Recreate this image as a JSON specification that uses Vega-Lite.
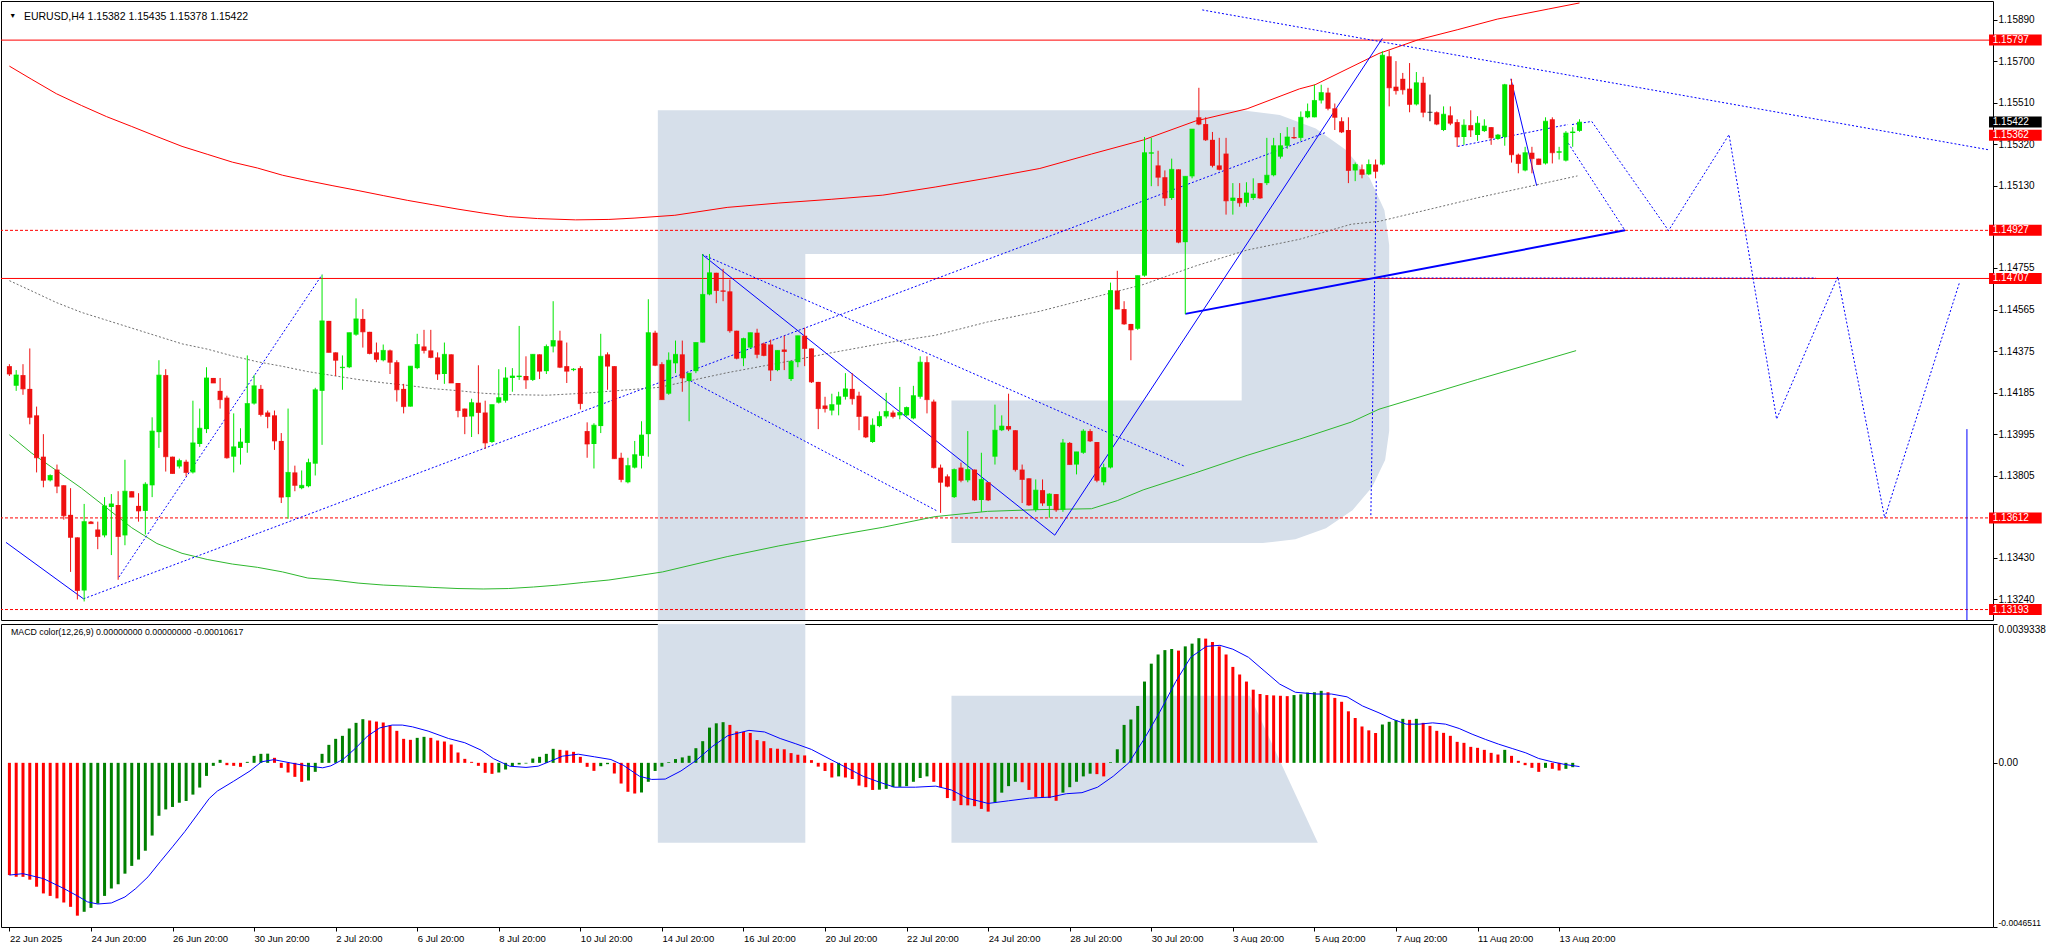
{
  "$schema": "https://vega.github.io/schema/vega-lite/v6.json",
  "description": "EURUSD H4 with MACD",
  "padding": 0,
  "background": "#ffffff",
  "spacing": 2,
  "resolve": {"scale": {"x": "independent", "y": "independent"}},
  "config": {
    "view": {"stroke": "#000000", "strokeWidth": 1},
    "axis": {"labelFont": "Liberation Sans", "labelColor": "#000000", "tickColor": "#000000", "domain": false, "grid": false, "labelFontSize": 10},
    "text": {"font": "Liberation Sans"}
  },
  "datasets": {
    "wmTop": [
      {"k":1,"i":95.4,"p":1.15476},{"k":2,"i":181.3,"p":1.15476},{"k":3,"i":186.9,"p":1.15455},{"k":4,"i":192.2,"p":1.15393},
      {"k":5,"i":196.6,"p":1.15296},{"k":6,"i":200.1,"p":1.15168},{"k":7,"i":202.3,"p":1.15019},{"k":8,"i":203.0,"p":1.1486},
      {"k":9,"i":203.0,"p":1.14009},{"k":10,"i":202.4,"p":1.13877},{"k":11,"i":200.5,"p":1.13753},{"k":12,"i":197.6,"p":1.13647},
      {"k":13,"i":193.7,"p":1.13565},{"k":14,"i":189.2,"p":1.13514},{"k":15,"i":184.4,"p":1.13497},{"k":16,"i":138.6,"p":1.13497},
      {"k":17,"i":138.6,"p":1.14149},{"k":18,"i":181.3,"p":1.14149},{"k":19,"i":181.3,"p":1.14819},{"k":20,"i":117.1,"p":1.14819},
      {"k":21,"i":117.1,"p":1.131},{"k":22,"i":95.4,"p":1.131}
    ],
    "wmMacd": [
      {"part":"stem","k":1,"i":95.4,"v":0.0045},{"part":"stem","k":2,"i":117.1,"v":0.0045},{"part":"stem","k":3,"i":117.1,"v":-0.002267},{"part":"stem","k":4,"i":95.4,"v":-0.002267},
      {"part":"leg","k":1,"i":138.6,"v":0.001898},{"part":"leg","k":2,"i":182.5,"v":0.001898},{"part":"leg","k":3,"i":192.5,"v":-0.002267},{"part":"leg","k":4,"i":138.6,"v":-0.002267}
    ],
    "levels": [
      {"p":1.15797,"kind":"main"},{"p":1.14707,"kind":"main"},
      {"p":1.14927,"kind":"aux"},{"p":1.13612,"kind":"aux"},{"p":1.13193,"kind":"aux"}
    ],
    "tags": [
      {"p":1.15797,"t":"1.15797","kind":"level"},{"p":1.15422,"t":"1.15422","kind":"bid"},{"p":1.15362,"t":"1.15362","kind":"level"},
      {"p":1.14927,"t":"1.14927","kind":"level"},{"p":1.14707,"t":"1.14707","kind":"level"},{"p":1.13612,"t":"1.13612","kind":"level"},
      {"p":1.13193,"t":"1.13193","kind":"level"}
    ],
    "curves": [
      {"c":"up","i":0,"p":1.15678},{"c":"up","i":3.2,"p":1.15619},{"c":"up","i":6.9,"p":1.15552},{"c":"up","i":10.6,"p":1.15498},{"c":"up","i":14.3,"p":1.15447},
      {"c":"up","i":18,"p":1.15402},{"c":"up","i":21.7,"p":1.15356},{"c":"up","i":25.4,"p":1.15311},{"c":"up","i":29.1,"p":1.15275},{"c":"up","i":32.8,"p":1.15239},
      {"c":"up","i":36.5,"p":1.15212},{"c":"up","i":40.2,"p":1.15179},{"c":"up","i":43.9,"p":1.15154},{"c":"up","i":47.6,"p":1.15131},{"c":"up","i":51.3,"p":1.15109},
      {"c":"up","i":55,"p":1.15086},{"c":"up","i":58.6,"p":1.15064},{"c":"up","i":62.3,"p":1.15044},{"c":"up","i":66,"p":1.15024},{"c":"up","i":69.7,"p":1.15006},
      {"c":"up","i":73.4,"p":1.1499},{"c":"up","i":77.7,"p":1.14981},{"c":"up","i":83.3,"p":1.14975},{"c":"up","i":88.2,"p":1.14977},{"c":"up","i":91.9,"p":1.14983},
      {"c":"up","i":97.9,"p":1.14996},{"c":"up","i":105.6,"p":1.15032},{"c":"up","i":113.2,"p":1.15052},{"c":"up","i":120.9,"p":1.15069},{"c":"up","i":128.5,"p":1.15088},
      {"c":"up","i":136.2,"p":1.15125},{"c":"up","i":143.9,"p":1.15166},{"c":"up","i":151.6,"p":1.1521},{"c":"up","i":159.2,"p":1.15276},{"c":"up","i":166.8,"p":1.1534},
      {"c":"up","i":174.5,"p":1.15427},{"c":"up","i":182.1,"p":1.15483},{"c":"up","i":189.8,"p":1.15574},{"c":"up","i":192.1,"p":1.15593},{"c":"up","i":201.5,"p":1.15736},
      {"c":"up","i":207.3,"p":1.15799},{"c":"up","i":213.1,"p":1.15845},{"c":"up","i":218.9,"p":1.15893},{"c":"up","i":226.4,"p":1.15939},{"c":"up","i":231,"p":1.15967},
      {"c":"lo","i":0,"p":1.13992},{"c":"lo","i":3.2,"p":1.1391},{"c":"lo","i":6.9,"p":1.13829},{"c":"lo","i":10.6,"p":1.13748},{"c":"lo","i":14.3,"p":1.13658},
      {"c":"lo","i":18,"p":1.13567},{"c":"lo","i":21.7,"p":1.13495},{"c":"lo","i":25.4,"p":1.1345},{"c":"lo","i":29.1,"p":1.13422},{"c":"lo","i":32.8,"p":1.13401},
      {"c":"lo","i":36.5,"p":1.13386},{"c":"lo","i":40.2,"p":1.13365},{"c":"lo","i":43.9,"p":1.13337},{"c":"lo","i":47.6,"p":1.13328},{"c":"lo","i":51.3,"p":1.13314},
      {"c":"lo","i":55,"p":1.13305},{"c":"lo","i":58.6,"p":1.133},{"c":"lo","i":62.3,"p":1.13294},{"c":"lo","i":66,"p":1.13289},{"c":"lo","i":69.7,"p":1.13287},
      {"c":"lo","i":73.4,"p":1.13289},{"c":"lo","i":77.1,"p":1.13296},{"c":"lo","i":80.8,"p":1.13305},{"c":"lo","i":84.5,"p":1.13317},{"c":"lo","i":88.2,"p":1.13328},
      {"c":"lo","i":91.9,"p":1.13345},{"c":"lo","i":96.1,"p":1.13365},{"c":"lo","i":105.6,"p":1.13435},{"c":"lo","i":113.2,"p":1.13484},{"c":"lo","i":120.9,"p":1.13528},
      {"c":"lo","i":128.5,"p":1.13569},{"c":"lo","i":136.2,"p":1.13618},{"c":"lo","i":143.9,"p":1.13642},{"c":"lo","i":151.6,"p":1.1365},{"c":"lo","i":159.2,"p":1.13654},
      {"c":"lo","i":163,"p":1.13691},{"c":"lo","i":166.8,"p":1.1374},{"c":"lo","i":174.5,"p":1.13818},{"c":"lo","i":182.1,"p":1.13898},{"c":"lo","i":189.8,"p":1.13972},
      {"c":"lo","i":197.4,"p":1.1405},{"c":"lo","i":201.5,"p":1.14109},{"c":"lo","i":216,"p":1.14245},{"c":"lo","i":230.5,"p":1.14377},
      {"c":"mid","i":0,"p":1.14697},{"c":"mid","i":3.2,"p":1.14651},{"c":"mid","i":6.9,"p":1.14597},{"c":"mid","i":10.6,"p":1.14552},{"c":"mid","i":14.3,"p":1.14516},
      {"c":"mid","i":18,"p":1.1448},{"c":"mid","i":21.7,"p":1.14444},{"c":"mid","i":25.4,"p":1.14408},{"c":"mid","i":29.1,"p":1.14384},{"c":"mid","i":32.8,"p":1.14353},
      {"c":"mid","i":36.5,"p":1.14326},{"c":"mid","i":40.2,"p":1.14305},{"c":"mid","i":43.9,"p":1.14281},{"c":"mid","i":47.6,"p":1.14263},{"c":"mid","i":51.3,"p":1.14245},
      {"c":"mid","i":55,"p":1.1423},{"c":"mid","i":58.6,"p":1.14218},{"c":"mid","i":62.3,"p":1.14203},{"c":"mid","i":66,"p":1.14194},{"c":"mid","i":69.7,"p":1.14182},
      {"c":"mid","i":73.4,"p":1.14176},{"c":"mid","i":79,"p":1.14173},{"c":"mid","i":84.5,"p":1.14182},{"c":"mid","i":88.2,"p":1.14191},{"c":"mid","i":91.9,"p":1.142},
      {"c":"mid","i":95.6,"p":1.14209},{"c":"mid","i":105.6,"p":1.14276},{"c":"mid","i":113.2,"p":1.1432},{"c":"mid","i":120.9,"p":1.14367},{"c":"mid","i":128.5,"p":1.1441},
      {"c":"mid","i":136.2,"p":1.14447},{"c":"mid","i":143.9,"p":1.14508},{"c":"mid","i":151.6,"p":1.14557},{"c":"mid","i":159.2,"p":1.14618},{"c":"mid","i":166.8,"p":1.14679},
      {"c":"mid","i":174.5,"p":1.14764},{"c":"mid","i":182.1,"p":1.14837},{"c":"mid","i":189.8,"p":1.14886},{"c":"mid","i":197.4,"p":1.14955},{"c":"mid","i":201.5,"p":1.14968},
      {"c":"mid","i":216,"p":1.15076},{"c":"mid","i":230.7,"p":1.15176}
    ],
    "drawings": [
      {"id":"b1","kind":"wave","k":0,"i":-0.5,"p":1.135},{"id":"b1","kind":"wave","k":1,"i":10.9,"p":1.13242},
      {"id":"b2","kind":"guide","k":0,"i":16.1,"p":1.13341},{"id":"b2","kind":"guide","k":1,"i":46,"p":1.14724},
      {"id":"b3","kind":"guide","k":0,"i":10.9,"p":1.13242},{"id":"b3","kind":"guide","k":1,"i":193.6,"p":1.15374},
      {"id":"b4","kind":"wave","k":0,"i":101.9,"p":1.14817},{"id":"b4","kind":"wave","k":1,"i":153.8,"p":1.13533},
      {"id":"b5","kind":"wave","k":0,"i":153.8,"p":1.13533},{"id":"b5","kind":"wave","k":1,"i":202,"p":1.15805},
      {"id":"b6","kind":"guide","k":0,"i":175.5,"p":1.15935},{"id":"b6","kind":"guide","k":1,"i":291.1,"p":1.15296},
      {"id":"b7","kind":"guide","k":0,"i":101.9,"p":1.14817},{"id":"b7","kind":"guide","k":1,"i":173,"p":1.13847},
      {"id":"b8","kind":"guide","k":0,"i":100.2,"p":1.14239},{"id":"b8","kind":"guide","k":1,"i":136.6,"p":1.13642},
      {"id":"b9","kind":"trend","k":0,"i":173,"p":1.14545},{"id":"b9","kind":"trend","k":1,"i":237.7,"p":1.14927},
      {"id":"b10","kind":"guide","k":0,"i":229.9,"p":1.15411},{"id":"b10","kind":"guide","k":1,"i":232.8,"p":1.15425},
      {"id":"b10","kind":"guide","k":2,"i":244.1,"p":1.14926},{"id":"b10","kind":"guide","k":3,"i":253,"p":1.15365},
      {"id":"b10","kind":"guide","k":4,"i":260,"p":1.14064},{"id":"b10","kind":"guide","k":5,"i":269,"p":1.14715},
      {"id":"b10","kind":"guide","k":6,"i":275.9,"p":1.13612},{"id":"b10","kind":"guide","k":7,"i":286.9,"p":1.14688},
      {"id":"b11","kind":"wave","k":0,"i":220.9,"p":1.1562},{"id":"b11","kind":"wave","k":1,"i":224.7,"p":1.15131},
      {"id":"b12","kind":"guide","k":0,"i":213.1,"p":1.15311},{"id":"b12","kind":"guide","k":1,"i":229.3,"p":1.15411},
      {"id":"b13","kind":"guide","k":0,"i":228.7,"p":1.15356},{"id":"b13","kind":"guide","k":1,"i":237.7,"p":1.14926},
      {"id":"b14","kind":"guide","k":0,"i":201.1,"p":1.15152},{"id":"b14","kind":"guide","k":1,"i":200.3,"p":1.13618},
      {"id":"b15","kind":"guide","k":0,"i":201,"p":1.14709},{"id":"b15","kind":"guide","k":1,"i":265.8,"p":1.14709},
      {"id":"b16","kind":"wave","k":0,"i":288,"p":1.14018},{"id":"b16","kind":"wave","k":1,"i":288,"p":1.131}
    ],
    "candles": [
      {"i":0,"o":1.14306,"h":1.14315,"l":1.14261,"c":1.1427},{"i":1,"o":1.14216,"h":1.14288,"l":1.14193,"c":1.14265},
      {"i":2,"o":1.14265,"h":1.14315,"l":1.14175,"c":1.14202},{"i":3,"o":1.14202,"h":1.14387,"l":1.1404,"c":1.14072},
      {"i":4,"o":1.14081,"h":1.14121,"l":1.1382,"c":1.13887},{"i":5,"o":1.13892,"h":1.13995,"l":1.13752,"c":1.13784},
      {"i":6,"o":1.13784,"h":1.13811,"l":1.13779,"c":1.13806},{"i":7,"o":1.13833,"h":1.13856,"l":1.13725,"c":1.13757},
      {"i":8,"o":1.13761,"h":1.13761,"l":1.13604,"c":1.13622},{"i":9,"o":1.13626,"h":1.13748,"l":1.13365,"c":1.13523},
      {"i":10,"o":1.13523,"h":1.13523,"l":1.13239,"c":1.1328},{"i":11,"o":1.1328,"h":1.13676,"l":1.1323,"c":1.13595},
      {"i":12,"o":1.13595,"h":1.13598,"l":1.13586,"c":1.13586},{"i":13,"o":1.13559,"h":1.13595,"l":1.13469,"c":1.13527},
      {"i":14,"o":1.13532,"h":1.13707,"l":1.13523,"c":1.13667},{"i":15,"o":1.13662,"h":1.13721,"l":1.13442,"c":1.13676},
      {"i":16,"o":1.13671,"h":1.13734,"l":1.13329,"c":1.13527},{"i":17,"o":1.13532,"h":1.13878,"l":1.13487,"c":1.13734},
      {"i":18,"o":1.13734,"h":1.13734,"l":1.13707,"c":1.13707},{"i":19,"o":1.13667,"h":1.13725,"l":1.13595,"c":1.13644},
      {"i":20,"o":1.13644,"h":1.13775,"l":1.13536,"c":1.13766},{"i":21,"o":1.13761,"h":1.14072,"l":1.13707,"c":1.14009},
      {"i":22,"o":1.14004,"h":1.14333,"l":1.13932,"c":1.14265},{"i":23,"o":1.14265,"h":1.14292,"l":1.13824,"c":1.13892},
      {"i":24,"o":1.13892,"h":1.13892,"l":1.13815,"c":1.13815},{"i":25,"o":1.13847,"h":1.13883,"l":1.13838,"c":1.13874},
      {"i":26,"o":1.13869,"h":1.13878,"l":1.13802,"c":1.1382},{"i":27,"o":1.1382,"h":1.14148,"l":1.13815,"c":1.13955},
      {"i":28,"o":1.1395,"h":1.14112,"l":1.13937,"c":1.14022},{"i":29,"o":1.14018,"h":1.14301,"l":1.14,"c":1.14252},
      {"i":30,"o":1.14252,"h":1.14252,"l":1.14229,"c":1.14229},{"i":31,"o":1.14193,"h":1.14252,"l":1.14112,"c":1.14153},
      {"i":32,"o":1.14162,"h":1.14171,"l":1.13883,"c":1.13887},{"i":33,"o":1.13892,"h":1.1409,"l":1.1382,"c":1.13937},
      {"i":34,"o":1.13932,"h":1.14022,"l":1.13856,"c":1.13959},{"i":35,"o":1.13955,"h":1.14355,"l":1.1391,"c":1.14135},
      {"i":36,"o":1.14135,"h":1.14265,"l":1.1413,"c":1.14216},{"i":37,"o":1.14202,"h":1.1422,"l":1.14076,"c":1.14085},
      {"i":38,"o":1.14094,"h":1.14103,"l":1.14022,"c":1.14076},{"i":39,"o":1.14081,"h":1.14103,"l":1.13923,"c":1.13964},
      {"i":40,"o":1.13964,"h":1.14,"l":1.1368,"c":1.13707},{"i":41,"o":1.13707,"h":1.14112,"l":1.13608,"c":1.1382},
      {"i":42,"o":1.1382,"h":1.13851,"l":1.13734,"c":1.13761},{"i":43,"o":1.13748,"h":1.13829,"l":1.13743,"c":1.13761},
      {"i":44,"o":1.13757,"h":1.13883,"l":1.13752,"c":1.13865},{"i":45,"o":1.1386,"h":1.14207,"l":1.13806,"c":1.14198},
      {"i":46,"o":1.14193,"h":1.14724,"l":1.13946,"c":1.14513},{"i":47,"o":1.14513,"h":1.14513,"l":1.14369,"c":1.14369},
      {"i":48,"o":1.14369,"h":1.14369,"l":1.14261,"c":1.14333},{"i":49,"o":1.14297,"h":1.14355,"l":1.14198,"c":1.14301},
      {"i":50,"o":1.14301,"h":1.14459,"l":1.14297,"c":1.14459},{"i":51,"o":1.1445,"h":1.14616,"l":1.14445,"c":1.14522},
      {"i":52,"o":1.14522,"h":1.14567,"l":1.14391,"c":1.14463},{"i":53,"o":1.14463,"h":1.14463,"l":1.1436,"c":1.14364},
      {"i":54,"o":1.14369,"h":1.14414,"l":1.14324,"c":1.14337},{"i":55,"o":1.14333,"h":1.14405,"l":1.14328,"c":1.14378},
      {"i":56,"o":1.14378,"h":1.14382,"l":1.1427,"c":1.14324},{"i":57,"o":1.14324,"h":1.14333,"l":1.14144,"c":1.14198},
      {"i":58,"o":1.14202,"h":1.14225,"l":1.1409,"c":1.14121},{"i":59,"o":1.14121,"h":1.14306,"l":1.14121,"c":1.14306},
      {"i":60,"o":1.14297,"h":1.14454,"l":1.14292,"c":1.14405},{"i":61,"o":1.14396,"h":1.14472,"l":1.14364,"c":1.14378},
      {"i":62,"o":1.14378,"h":1.14472,"l":1.14342,"c":1.14346},{"i":63,"o":1.14346,"h":1.14369,"l":1.14243,"c":1.1427},
      {"i":64,"o":1.1427,"h":1.14414,"l":1.14225,"c":1.1436},{"i":65,"o":1.1436,"h":1.1436,"l":1.14229,"c":1.14229},
      {"i":66,"o":1.14229,"h":1.14229,"l":1.14072,"c":1.14103},{"i":67,"o":1.14112,"h":1.14112,"l":1.13995,"c":1.14076},
      {"i":68,"o":1.14076,"h":1.14157,"l":1.13982,"c":1.14139},{"i":69,"o":1.14139,"h":1.1431,"l":1.13995,"c":1.14094},
      {"i":70,"o":1.14094,"h":1.14148,"l":1.13928,"c":1.13955},{"i":71,"o":1.13959,"h":1.1413,"l":1.13955,"c":1.1413},
      {"i":72,"o":1.14139,"h":1.14292,"l":1.14135,"c":1.14162},{"i":73,"o":1.14148,"h":1.14301,"l":1.14139,"c":1.14252},
      {"i":74,"o":1.14252,"h":1.14297,"l":1.14189,"c":1.14261},{"i":75,"o":1.14256,"h":1.1449,"l":1.14243,"c":1.14261},
      {"i":76,"o":1.14261,"h":1.14351,"l":1.14202,"c":1.14243},{"i":77,"o":1.14243,"h":1.1436,"l":1.14238,"c":1.1436},
      {"i":78,"o":1.1436,"h":1.1436,"l":1.14247,"c":1.14283},{"i":79,"o":1.14283,"h":1.14405,"l":1.1427,"c":1.14396},
      {"i":80,"o":1.14396,"h":1.14603,"l":1.14369,"c":1.14423},{"i":81,"o":1.14423,"h":1.14468,"l":1.14297,"c":1.14301},
      {"i":82,"o":1.14306,"h":1.14414,"l":1.14229,"c":1.14283},{"i":83,"o":1.14288,"h":1.14297,"l":1.14283,"c":1.14292},
      {"i":84,"o":1.14297,"h":1.14306,"l":1.14108,"c":1.14135},{"i":85,"o":1.14009,"h":1.14049,"l":1.13887,"c":1.1395},
      {"i":86,"o":1.1395,"h":1.14045,"l":1.13838,"c":1.14036},{"i":87,"o":1.14032,"h":1.14454,"l":1.14,"c":1.14351},
      {"i":88,"o":1.1436,"h":1.14369,"l":1.14198,"c":1.14306},{"i":89,"o":1.14306,"h":1.14306,"l":1.13883,"c":1.13883},
      {"i":90,"o":1.13887,"h":1.1391,"l":1.13775,"c":1.13788},{"i":91,"o":1.13775,"h":1.13887,"l":1.1377,"c":1.13851},
      {"i":92,"o":1.13842,"h":1.13964,"l":1.13838,"c":1.13901},{"i":93,"o":1.13896,"h":1.14054,"l":1.13838,"c":1.13991},
      {"i":94,"o":1.13995,"h":1.14612,"l":1.13892,"c":1.14459},{"i":95,"o":1.14459,"h":1.14468,"l":1.14306,"c":1.1431},
      {"i":96,"o":1.14315,"h":1.14324,"l":1.14153,"c":1.14153},{"i":97,"o":1.1418,"h":1.14369,"l":1.14175,"c":1.14333},
      {"i":98,"o":1.14319,"h":1.14423,"l":1.14274,"c":1.1436},{"i":99,"o":1.1436,"h":1.14423,"l":1.14189,"c":1.14252},
      {"i":100,"o":1.14238,"h":1.14274,"l":1.14054,"c":1.14274},{"i":101,"o":1.14283,"h":1.14414,"l":1.14274,"c":1.14414},
      {"i":102,"o":1.14414,"h":1.14819,"l":1.14414,"c":1.14634},{"i":103,"o":1.14634,"h":1.14819,"l":1.1463,"c":1.14733},
      {"i":104,"o":1.14733,"h":1.14733,"l":1.14594,"c":1.14652},{"i":105,"o":1.14652,"h":1.14751,"l":1.14603,"c":1.14648},
      {"i":106,"o":1.14648,"h":1.14702,"l":1.14459,"c":1.14468},{"i":107,"o":1.14468,"h":1.14468,"l":1.14337,"c":1.14342},
      {"i":108,"o":1.14342,"h":1.14436,"l":1.14306,"c":1.14432},{"i":109,"o":1.14391,"h":1.14459,"l":1.14387,"c":1.14459},
      {"i":110,"o":1.14459,"h":1.14477,"l":1.14342,"c":1.1436},{"i":111,"o":1.14409,"h":1.14414,"l":1.14351,"c":1.14355},
      {"i":112,"o":1.14405,"h":1.14427,"l":1.14238,"c":1.14288},{"i":113,"o":1.14288,"h":1.14378,"l":1.14283,"c":1.14378},
      {"i":114,"o":1.14382,"h":1.14445,"l":1.14288,"c":1.14373},{"i":115,"o":1.14247,"h":1.14328,"l":1.14238,"c":1.14328},
      {"i":116,"o":1.14324,"h":1.14445,"l":1.14301,"c":1.14445},{"i":117,"o":1.14445,"h":1.14481,"l":1.14306,"c":1.14387},
      {"i":118,"o":1.14387,"h":1.14387,"l":1.14229,"c":1.14234},{"i":119,"o":1.14234,"h":1.14234,"l":1.14018,"c":1.14112},
      {"i":120,"o":1.14126,"h":1.14166,"l":1.14094,"c":1.14112},{"i":121,"o":1.14103,"h":1.1418,"l":1.14081,"c":1.1413},
      {"i":122,"o":1.1413,"h":1.14189,"l":1.14081,"c":1.14166},{"i":123,"o":1.14166,"h":1.14274,"l":1.14153,"c":1.14202},
      {"i":124,"o":1.14202,"h":1.14274,"l":1.1413,"c":1.14157},{"i":125,"o":1.14171,"h":1.14189,"l":1.14013,"c":1.14076},
      {"i":126,"o":1.14076,"h":1.14076,"l":1.13977,"c":1.13982},{"i":127,"o":1.13959,"h":1.14067,"l":1.13955,"c":1.14036},
      {"i":128,"o":1.14032,"h":1.14099,"l":1.14027,"c":1.14076},{"i":129,"o":1.14076,"h":1.14184,"l":1.14067,"c":1.14099},
      {"i":130,"o":1.14094,"h":1.14103,"l":1.14067,"c":1.14076},{"i":131,"o":1.14081,"h":1.14211,"l":1.14063,"c":1.14094},
      {"i":132,"o":1.14081,"h":1.14121,"l":1.14076,"c":1.14117},{"i":133,"o":1.14067,"h":1.14216,"l":1.14063,"c":1.14171},
      {"i":134,"o":1.14166,"h":1.14351,"l":1.14157,"c":1.14324},{"i":135,"o":1.14324,"h":1.14351,"l":1.1409,"c":1.14153},
      {"i":136,"o":1.14144,"h":1.14153,"l":1.13838,"c":1.13842},{"i":137,"o":1.13842,"h":1.13856,"l":1.13635,"c":1.13775},
      {"i":138,"o":1.13802,"h":1.13811,"l":1.13752,"c":1.13757},{"i":139,"o":1.13707,"h":1.13838,"l":1.13703,"c":1.13833},
      {"i":140,"o":1.13842,"h":1.13865,"l":1.13775,"c":1.13784},{"i":141,"o":1.13784,"h":1.14009,"l":1.13775,"c":1.13833},
      {"i":142,"o":1.13833,"h":1.13833,"l":1.13689,"c":1.13694},{"i":143,"o":1.13694,"h":1.1391,"l":1.1364,"c":1.13788},
      {"i":144,"o":1.13775,"h":1.13775,"l":1.13689,"c":1.13694},{"i":145,"o":1.13892,"h":1.1413,"l":1.13856,"c":1.14013},
      {"i":146,"o":1.14013,"h":1.14081,"l":1.14009,"c":1.14032},{"i":147,"o":1.14032,"h":1.1418,"l":1.14009,"c":1.14018},
      {"i":148,"o":1.14013,"h":1.14013,"l":1.13824,"c":1.13833},{"i":149,"o":1.13833,"h":1.13856,"l":1.1368,"c":1.13788},
      {"i":150,"o":1.13793,"h":1.13793,"l":1.13667,"c":1.13671},{"i":151,"o":1.13649,"h":1.13788,"l":1.1364,"c":1.13739},
      {"i":152,"o":1.13739,"h":1.13788,"l":1.13667,"c":1.1368},{"i":153,"o":1.13667,"h":1.13725,"l":1.13613,"c":1.13721},
      {"i":154,"o":1.13721,"h":1.13721,"l":1.1364,"c":1.13649},{"i":155,"o":1.13649,"h":1.13973,"l":1.1364,"c":1.13955},
      {"i":156,"o":1.13955,"h":1.13959,"l":1.13856,"c":1.13856},{"i":157,"o":1.13856,"h":1.13914,"l":1.13811,"c":1.13914},
      {"i":158,"o":1.1391,"h":1.14018,"l":1.13905,"c":1.14009},{"i":159,"o":1.14009,"h":1.14018,"l":1.13959,"c":1.13964},
      {"i":160,"o":1.13959,"h":1.13959,"l":1.13775,"c":1.13784},{"i":161,"o":1.13775,"h":1.1386,"l":1.13761,"c":1.13842},
      {"i":162,"o":1.13842,"h":1.14688,"l":1.13838,"c":1.14652},{"i":163,"o":1.14652,"h":1.14742,"l":1.14567,"c":1.14567},
      {"i":164,"o":1.14567,"h":1.14603,"l":1.14495,"c":1.14499},{"i":165,"o":1.14499,"h":1.14499,"l":1.14333,"c":1.14472},
      {"i":166,"o":1.14477,"h":1.1472,"l":1.14472,"c":1.1472},{"i":167,"o":1.1472,"h":1.15354,"l":1.14715,"c":1.15282},
      {"i":168,"o":1.15278,"h":1.1535,"l":1.15129,"c":1.15282},{"i":169,"o":1.15224,"h":1.15291,"l":1.15129,"c":1.1517},
      {"i":170,"o":1.1517,"h":1.15201,"l":1.15039,"c":1.15075},{"i":171,"o":1.15075,"h":1.15255,"l":1.15066,"c":1.15206},
      {"i":172,"o":1.15206,"h":1.15206,"l":1.14868,"c":1.14873},{"i":173,"o":1.14873,"h":1.15174,"l":1.14544,"c":1.15174},
      {"i":174,"o":1.15174,"h":1.1539,"l":1.15165,"c":1.1539},{"i":175,"o":1.15444,"h":1.15579,"l":1.15408,"c":1.15413},
      {"i":176,"o":1.15413,"h":1.15444,"l":1.15336,"c":1.15341},{"i":177,"o":1.15341,"h":1.15377,"l":1.15215,"c":1.15224},
      {"i":178,"o":1.15224,"h":1.1535,"l":1.15201,"c":1.15206},{"i":179,"o":1.15278,"h":1.1535,"l":1.14999,"c":1.15062},
      {"i":180,"o":1.15062,"h":1.15143,"l":1.14999,"c":1.15075},{"i":181,"o":1.15075,"h":1.15143,"l":1.15035,"c":1.15053},
      {"i":182,"o":1.15053,"h":1.15147,"l":1.15035,"c":1.15098},{"i":183,"o":1.15075,"h":1.15165,"l":1.15066,"c":1.15093},
      {"i":184,"o":1.15143,"h":1.15143,"l":1.15071,"c":1.15075},{"i":185,"o":1.15143,"h":1.1535,"l":1.15134,"c":1.15179},
      {"i":186,"o":1.15179,"h":1.1535,"l":1.15174,"c":1.15314},{"i":187,"o":1.15264,"h":1.15372,"l":1.15255,"c":1.15314},
      {"i":188,"o":1.15314,"h":1.15399,"l":1.153,"c":1.15354},{"i":189,"o":1.15354,"h":1.15399,"l":1.15345,"c":1.1535},
      {"i":190,"o":1.1535,"h":1.15471,"l":1.15336,"c":1.15444},{"i":191,"o":1.15444,"h":1.15507,"l":1.1544,"c":1.15471},
      {"i":192,"o":1.15444,"h":1.15593,"l":1.15444,"c":1.15521},{"i":193,"o":1.15521,"h":1.15593,"l":1.15507,"c":1.15557},
      {"i":194,"o":1.15557,"h":1.15579,"l":1.15476,"c":1.15485},{"i":195,"o":1.15485,"h":1.15507,"l":1.15386,"c":1.15444},
      {"i":196,"o":1.15426,"h":1.15444,"l":1.15372,"c":1.15377},{"i":197,"o":1.15386,"h":1.15444,"l":1.15143,"c":1.15201},
      {"i":198,"o":1.15201,"h":1.15237,"l":1.15152,"c":1.15228},{"i":199,"o":1.15206,"h":1.15228,"l":1.15165,"c":1.15183},
      {"i":200,"o":1.15183,"h":1.15251,"l":1.15179,"c":1.15228},{"i":201,"o":1.15228,"h":1.15251,"l":1.15165,"c":1.15197},
      {"i":202,"o":1.15228,"h":1.15746,"l":1.15224,"c":1.15728},{"i":203,"o":1.15723,"h":1.1575,"l":1.15494,"c":1.15579},
      {"i":204,"o":1.15584,"h":1.15701,"l":1.15548,"c":1.15566},{"i":205,"o":1.1562,"h":1.15647,"l":1.15548,"c":1.1557},
      {"i":206,"o":1.15575,"h":1.15692,"l":1.15467,"c":1.15503},{"i":207,"o":1.15503,"h":1.15651,"l":1.15498,"c":1.15602},
      {"i":208,"o":1.15602,"h":1.15629,"l":1.15444,"c":1.15467},{"i":209,"o":1.15467,"h":1.15548,"l":1.15426,"c":1.15467},
      {"i":210,"o":1.15467,"h":1.15471,"l":1.15408,"c":1.15413},{"i":211,"o":1.15386,"h":1.15494,"l":1.15381,"c":1.15458},
      {"i":212,"o":1.15453,"h":1.15494,"l":1.15408,"c":1.15417},{"i":213,"o":1.15422,"h":1.15435,"l":1.15309,"c":1.15354},
      {"i":214,"o":1.15354,"h":1.15435,"l":1.15318,"c":1.15408},{"i":215,"o":1.15408,"h":1.15476,"l":1.15354,"c":1.15386},
      {"i":216,"o":1.15363,"h":1.15449,"l":1.15336,"c":1.15417},{"i":217,"o":1.15381,"h":1.15435,"l":1.15377,"c":1.15404},
      {"i":218,"o":1.15399,"h":1.15399,"l":1.15318,"c":1.1535},{"i":219,"o":1.15345,"h":1.15368,"l":1.15341,"c":1.15363},
      {"i":220,"o":1.15354,"h":1.15597,"l":1.15314,"c":1.15593},{"i":221,"o":1.15593,"h":1.1562,"l":1.15237,"c":1.15273},
      {"i":222,"o":1.15273,"h":1.15278,"l":1.15188,"c":1.15233},{"i":223,"o":1.15201,"h":1.15309,"l":1.15197,"c":1.15282},
      {"i":224,"o":1.15282,"h":1.15309,"l":1.15188,"c":1.15255},{"i":225,"o":1.15255,"h":1.15255,"l":1.15228,"c":1.15228},
      {"i":226,"o":1.15233,"h":1.15444,"l":1.15228,"c":1.15426},{"i":227,"o":1.15435,"h":1.15444,"l":1.15233,"c":1.15282},
      {"i":228,"o":1.15282,"h":1.15309,"l":1.15251,"c":1.15287},{"i":229,"o":1.15246,"h":1.15381,"l":1.15242,"c":1.15372},
      {"i":230,"o":1.15372,"h":1.15399,"l":1.15309,"c":1.15377},{"i":231,"o":1.15382,"h":1.15435,"l":1.15378,"c":1.15422}
    ],
    "hist": [
      {"i":0,"h":-0.00318,"g":0},{"i":1,"h":-0.00323,"g":0},{"i":2,"h":-0.00323,"g":0},{"i":3,"h":-0.00331,"g":0},{"i":4,"h":-0.00351,"g":0},
      {"i":5,"h":-0.0037,"g":0},{"i":6,"h":-0.00377,"g":0},{"i":7,"h":-0.00384,"g":0},{"i":8,"h":-0.00396,"g":0},{"i":9,"h":-0.00408,"g":0},
      {"i":10,"h":-0.00433,"g":0},{"i":11,"h":-0.00422,"g":1},{"i":12,"h":-0.00411,"g":1},{"i":13,"h":-0.00399,"g":1},{"i":14,"h":-0.00377,"g":1},
      {"i":15,"h":-0.00356,"g":1},{"i":16,"h":-0.00344,"g":1},{"i":17,"h":-0.00314,"g":1},{"i":18,"h":-0.00292,"g":1},{"i":19,"h":-0.00274,"g":1},
      {"i":20,"h":-0.00249,"g":1},{"i":21,"h":-0.00206,"g":1},{"i":22,"h":-0.0015,"g":1},{"i":23,"h":-0.00132,"g":1},{"i":24,"h":-0.00125,"g":1},
      {"i":25,"h":-0.00113,"g":1},{"i":26,"h":-0.00108,"g":1},{"i":27,"h":-0.0009,"g":1},{"i":28,"h":-0.0007,"g":1},{"i":29,"h":-0.00037,"g":1},
      {"i":30,"h":-0.000085,"g":1},{"i":31,"h":0.000085,"g":1},{"i":32,"h":-0.000066,"g":0},{"i":33,"h":-0.000085,"g":0},{"i":34,"h":-0.000113,"g":0},
      {"i":35,"h":0.000028,"g":1},{"i":36,"h":0.000198,"g":1},{"i":37,"h":0.000255,"g":1},{"i":38,"h":0.00026,"g":1},{"i":39,"h":0.000142,"g":0},
      {"i":40,"h":-0.000142,"g":0},{"i":41,"h":-0.000274,"g":0},{"i":42,"h":-0.000397,"g":0},{"i":43,"h":-0.000538,"g":0},{"i":44,"h":-0.0005,"g":1},
      {"i":45,"h":-0.000255,"g":1},{"i":46,"h":0.000255,"g":1},{"i":47,"h":0.00051,"g":1},{"i":48,"h":0.00068,"g":1},{"i":49,"h":0.000765,"g":1},
      {"i":50,"h":0.000973,"g":1},{"i":51,"h":0.001133,"g":1},{"i":52,"h":0.001237,"g":1},{"i":53,"h":0.0012,"g":0},{"i":54,"h":0.00117,"g":0},
      {"i":55,"h":0.001143,"g":0},{"i":56,"h":0.001058,"g":0},{"i":57,"h":0.000907,"g":0},{"i":58,"h":0.00068,"g":0},{"i":59,"h":0.000652,"g":0},
      {"i":60,"h":0.000708,"g":1},{"i":61,"h":0.000737,"g":1},{"i":62,"h":0.000708,"g":0},{"i":63,"h":0.000633,"g":0},{"i":64,"h":0.000604,"g":0},
      {"i":65,"h":0.000519,"g":0},{"i":66,"h":0.000293,"g":0},{"i":67,"h":0.000113,"g":0},{"i":68,"h":0.000028,"g":0},{"i":69,"h":-0.000085,"g":0},
      {"i":70,"h":-0.000283,"g":0},{"i":71,"h":-0.000312,"g":0},{"i":72,"h":-0.000274,"g":1},{"i":73,"h":-0.000189,"g":1},{"i":74,"h":-0.000094,"g":1},
      {"i":75,"h":-0.000047,"g":1},{"i":76,"h":-0.000019,"g":1},{"i":77,"h":0.000123,"g":1},{"i":78,"h":0.00017,"g":1},{"i":79,"h":0.000255,"g":1},
      {"i":80,"h":0.000397,"g":1},{"i":81,"h":0.000368,"g":0},{"i":82,"h":0.000349,"g":0},{"i":83,"h":0.000312,"g":0},{"i":84,"h":0.00017,"g":0},
      {"i":85,"h":-0.000113,"g":0},{"i":86,"h":-0.000227,"g":0},{"i":87,"h":-0.000094,"g":1},{"i":88,"h":-0.000038,"g":1},{"i":89,"h":-0.000302,"g":0},
      {"i":90,"h":-0.000586,"g":0},{"i":91,"h":-0.00082,"g":0},{"i":92,"h":-0.000869,"g":0},{"i":93,"h":-0.00084,"g":1},{"i":94,"h":-0.000537,"g":1},
      {"i":95,"h":-0.00023,"g":1},{"i":96,"h":-0.000107,"g":1},{"i":97,"h":0.00002,"g":1},{"i":98,"h":0.000107,"g":1},{"i":99,"h":0.000154,"g":1},
      {"i":100,"h":0.0002,"g":1},{"i":101,"h":0.000415,"g":1},{"i":102,"h":0.000614,"g":1},{"i":103,"h":0.000998,"g":1},{"i":104,"h":0.00112,"g":1},
      {"i":105,"h":0.001152,"g":1},{"i":106,"h":0.001075,"g":0},{"i":107,"h":0.00089,"g":0},{"i":108,"h":0.000875,"g":0},{"i":109,"h":0.000845,"g":0},
      {"i":110,"h":0.000645,"g":0},{"i":111,"h":0.000614,"g":0},{"i":112,"h":0.000415,"g":0},{"i":113,"h":0.0004,"g":0},{"i":114,"h":0.000384,"g":0},
      {"i":115,"h":0.000276,"g":0},{"i":116,"h":0.00023,"g":0},{"i":117,"h":0.00021,"g":0},{"i":118,"h":0.000077,"g":0},{"i":119,"h":-0.000107,"g":0},
      {"i":120,"h":-0.00023,"g":0},{"i":121,"h":-0.000415,"g":0},{"i":122,"h":-0.000384,"g":1},{"i":123,"h":-0.000415,"g":0},{"i":124,"h":-0.00046,"g":0},
      {"i":125,"h":-0.000645,"g":0},{"i":126,"h":-0.00069,"g":0},{"i":127,"h":-0.000768,"g":0},{"i":128,"h":-0.00076,"g":1},{"i":129,"h":-0.000737,"g":1},
      {"i":130,"h":-0.00069,"g":1},{"i":131,"h":-0.00068,"g":1},{"i":132,"h":-0.00066,"g":1},{"i":133,"h":-0.000537,"g":1},{"i":134,"h":-0.00043,"g":1},
      {"i":135,"h":-0.000384,"g":1},{"i":136,"h":-0.000537,"g":0},{"i":137,"h":-0.00069,"g":0},{"i":138,"h":-0.000998,"g":0},{"i":139,"h":-0.001075,"g":0},
      {"i":140,"h":-0.001198,"g":0},{"i":141,"h":-0.001205,"g":0},{"i":142,"h":-0.001228,"g":0},{"i":143,"h":-0.001305,"g":0},{"i":144,"h":-0.001382,"g":0},
      {"i":145,"h":-0.00112,"g":1},{"i":146,"h":-0.000845,"g":1},{"i":147,"h":-0.00066,"g":1},{"i":148,"h":-0.000537,"g":1},{"i":149,"h":-0.00055,"g":0},
      {"i":150,"h":-0.000768,"g":0},{"i":151,"h":-0.000967,"g":0},{"i":152,"h":-0.00097,"g":0},{"i":153,"h":-0.000998,"g":0},{"i":154,"h":-0.001075,"g":0},
      {"i":155,"h":-0.000845,"g":1},{"i":156,"h":-0.00069,"g":1},{"i":157,"h":-0.000537,"g":1},{"i":158,"h":-0.000384,"g":1},{"i":159,"h":-0.000307,"g":1},
      {"i":160,"h":-0.00032,"g":0},{"i":161,"h":-0.000384,"g":0},{"i":162,"h":0.00002,"g":1},{"i":163,"h":0.000384,"g":1},{"i":164,"h":0.001075,"g":1},
      {"i":165,"h":0.001228,"g":1},{"i":166,"h":0.001612,"g":1},{"i":167,"h":0.002303,"g":1},{"i":168,"h":0.00281,"g":1},{"i":169,"h":0.00307,"g":1},
      {"i":170,"h":0.003194,"g":1},{"i":171,"h":0.003225,"g":1},{"i":172,"h":0.00318,"g":0},{"i":173,"h":0.0033,"g":1},{"i":174,"h":0.003378,"g":1},
      {"i":175,"h":0.003532,"g":1},{"i":176,"h":0.00352,"g":0},{"i":177,"h":0.003424,"g":0},{"i":178,"h":0.0033,"g":0},{"i":179,"h":0.00307,"g":0},
      {"i":180,"h":0.002718,"g":0},{"i":181,"h":0.002503,"g":0},{"i":182,"h":0.002303,"g":0},{"i":183,"h":0.002073,"g":0},{"i":184,"h":0.00195,"g":0},
      {"i":185,"h":0.00192,"g":0},{"i":186,"h":0.00191,"g":0},{"i":187,"h":0.0019,"g":0},{"i":188,"h":0.00189,"g":0},{"i":189,"h":0.00192,"g":1},
      {"i":190,"h":0.00194,"g":1},{"i":191,"h":0.00199,"g":1},{"i":192,"h":0.002,"g":1},{"i":193,"h":0.00204,"g":1},{"i":194,"h":0.002,"g":0},
      {"i":195,"h":0.00184,"g":0},{"i":196,"h":0.00173,"g":0},{"i":197,"h":0.00146,"g":0},{"i":198,"h":0.00127,"g":0},{"i":199,"h":0.00103,"g":0},
      {"i":200,"h":0.00092,"g":0},{"i":201,"h":0.000845,"g":0},{"i":202,"h":0.001086,"g":1},{"i":203,"h":0.001162,"g":1},{"i":204,"h":0.001209,"g":1},
      {"i":205,"h":0.001247,"g":1},{"i":206,"h":0.001218,"g":0},{"i":207,"h":0.001247,"g":1},{"i":208,"h":0.001133,"g":0},{"i":209,"h":0.001048,"g":0},
      {"i":210,"h":0.000907,"g":0},{"i":211,"h":0.00085,"g":0},{"i":212,"h":0.000765,"g":0},{"i":213,"h":0.000595,"g":0},{"i":214,"h":0.000567,"g":0},
      {"i":215,"h":0.000453,"g":0},{"i":216,"h":0.000425,"g":0},{"i":217,"h":0.000368,"g":0},{"i":218,"h":0.000283,"g":0},{"i":219,"h":0.000236,"g":0},
      {"i":220,"h":0.000368,"g":1},{"i":221,"h":0.000198,"g":0},{"i":222,"h":0.000057,"g":0},{"i":223,"h":-0.000066,"g":0},{"i":224,"h":-0.000142,"g":0},
      {"i":225,"h":-0.000255,"g":0},{"i":226,"h":-0.000142,"g":1},{"i":227,"h":-0.00017,"g":0},{"i":228,"h":-0.000217,"g":0},{"i":229,"h":-0.00017,"g":1},
      {"i":230,"h":-0.000123,"g":1},{"i":231,"h":0,"g":1}
    ],
    "signal": [
      {"i":0,"s":-0.00318},{"i":2,"s":-0.00314},{"i":5,"s":-0.00328},{"i":8,"s":-0.00356},{"i":10,"s":-0.00377},{"i":11.5,"s":-0.00394},
      {"i":13,"s":-0.004},{"i":15,"s":-0.00397},{"i":17,"s":-0.0038},{"i":18.6,"s":-0.00356},{"i":20.4,"s":-0.00323},{"i":22.2,"s":-0.0028},
      {"i":24,"s":-0.00238},{"i":25.8,"s":-0.00195},{"i":27.6,"s":-0.00148},{"i":29.4,"s":-0.00101},{"i":30.6,"s":-0.0008},{"i":33,"s":-0.00052},
      {"i":35.4,"s":-0.00023},{"i":37.1,"s":0.00003},{"i":38.9,"s":0.00009},{"i":41.3,"s":0},{"i":43.7,"s":-0.000085},{"i":46.1,"s":-0.00014},
      {"i":47.3,"s":-0.000085},{"i":49.1,"s":0.0001},{"i":50.9,"s":0.00041},{"i":52.7,"s":0.00076},{"i":54.5,"s":0.00099},{"i":56.3,"s":0.00107},
      {"i":57.8,"s":0.00107},{"i":59.3,"s":0.00102},{"i":61.6,"s":0.0009},{"i":64.6,"s":0.00069},{"i":67,"s":0.00057},{"i":69.4,"s":0.00036},
      {"i":71.2,"s":0.00012},{"i":73.6,"s":-0.000094},{"i":76,"s":-0.00013},{"i":77.8,"s":-0.000094},{"i":79.6,"s":0.000047},{"i":81.4,"s":0.00019},
      {"i":83.7,"s":0.000245},{"i":86.1,"s":0.00017},{"i":88.5,"s":0.000094},{"i":90.3,"s":-0.000066},{"i":92.7,"s":-0.00038},{"i":94.5,"s":-0.00047},
      {"i":96.5,"s":-0.00046},{"i":98.8,"s":-0.00023},{"i":101.1,"s":0.000077},{"i":103.4,"s":0.00046},{"i":105.7,"s":0.00077},{"i":108.8,"s":0.00092},
      {"i":111.1,"s":0.000875},{"i":113.4,"s":0.00069},{"i":115.7,"s":0.00054},{"i":118,"s":0.00038},{"i":121,"s":0.000077},{"i":123.3,"s":-0.00015},
      {"i":125.6,"s":-0.00038},{"i":127.9,"s":-0.00054},{"i":130.2,"s":-0.00069},{"i":133.3,"s":-0.00069},{"i":136.3,"s":-0.00066},{"i":138.6,"s":-0.00077},
      {"i":140.9,"s":-0.001},{"i":144,"s":-0.00115},{"i":147,"s":-0.001075},{"i":150.1,"s":-0.001},{"i":153.2,"s":-0.00097},{"i":155.5,"s":-0.000875},
      {"i":157.8,"s":-0.000845},{"i":160.1,"s":-0.00069},{"i":162.4,"s":-0.00038},{"i":164.7,"s":0},{"i":167,"s":0.00069},{"i":169.3,"s":0.00146},
      {"i":171.6,"s":0.0023},{"i":173.8,"s":0.00299},{"i":176.1,"s":0.0033},{"i":178.1,"s":0.00333},{"i":180,"s":0.00322},{"i":182.3,"s":0.00299},
      {"i":184.6,"s":0.00261},{"i":186.9,"s":0.00223},{"i":189.2,"s":0.002},{"i":192.2,"s":0.00195},{"i":194.5,"s":0.00195},{"i":196.8,"s":0.00187},
      {"i":199.1,"s":0.00161},{"i":201.5,"s":0.001417},{"i":203.5,"s":0.001237},{"i":205.5,"s":0.001096},{"i":207.4,"s":0.001096},{"i":209.4,"s":0.001133},
      {"i":211.3,"s":0.001096},{"i":213.3,"s":0.000973},{"i":215.2,"s":0.000812},{"i":217.2,"s":0.000661},{"i":219.1,"s":0.000529},{"i":221.1,"s":0.000406},
      {"i":223.1,"s":0.000283},{"i":225,"s":0.000123},{"i":227,"s":0.000028},{"i":228.9,"s":-0.000047},{"i":231,"s":-0.000106}
    ]
  },
  "vconcat": [
    {
      "width": 1992,
      "height": 619,
      "layer": [
        {
          "data": {"name": "wmTop"},
          "mark": {"type": "line", "fill": "#d6dfea", "strokeWidth": 0, "strokeOpacity": 0, "clip": true},
          "encoding": {
            "x": {"field": "i", "type": "quantitative", "scale": {"domain": [-0.5, 291.1], "nice": false, "zero": false}, "axis": null},
            "y": {"field": "p", "type": "quantitative", "scale": {"domain": [1.13168, 1.15953], "nice": false, "zero": false}, "title": null,
              "axis": {"orient": "right", "title": null, "values": [1.1324, 1.1343, 1.13805, 1.13995, 1.14185, 1.14375, 1.14565, 1.14755, 1.1513, 1.1532, 1.1551, 1.157, 1.1589],
                "format": ".5f", "tickSize": 4, "labelPadding": 1, "labelFontSize": 10, "labelOverlap": false, "labelBound": false, "labelFlush": false}},
            "order": {"field": "k", "type": "quantitative"}
          }
        },
        {
          "data": {"name": "levels"},
          "transform": [{"filter": "datum.kind == 'main'"}],
          "mark": {"type": "rule", "color": "#ff0000", "strokeWidth": 1},
          "encoding": {"y": {"field": "p", "type": "quantitative", "scale": {"domain": [1.13168, 1.15953], "nice": false, "zero": false}, "title": null}}
        },
        {
          "data": {"name": "levels"},
          "transform": [{"filter": "datum.kind == 'aux'"}],
          "mark": {"type": "rule", "color": "#ff0000", "strokeWidth": 1, "strokeDash": [3, 2]},
          "encoding": {"y": {"field": "p", "type": "quantitative", "title": null}}
        },
        {
          "data": {"name": "curves"},
          "transform": [{"filter": "datum.c == 'up'"}],
          "mark": {"type": "line", "color": "#ff0000", "strokeWidth": 1, "clip": true},
          "encoding": {
            "x": {"field": "i", "type": "quantitative", "axis": null},
            "y": {"field": "p", "type": "quantitative", "title": null}
          }
        },
        {
          "data": {"name": "curves"},
          "transform": [{"filter": "datum.c == 'lo'"}],
          "mark": {"type": "line", "color": "#2eb82e", "strokeWidth": 1, "clip": true},
          "encoding": {
            "x": {"field": "i", "type": "quantitative", "axis": null},
            "y": {"field": "p", "type": "quantitative", "title": null}
          }
        },
        {
          "data": {"name": "curves"},
          "transform": [{"filter": "datum.c == 'mid'"}],
          "mark": {"type": "line", "color": "#707070", "strokeWidth": 1, "strokeDash": [2, 2], "clip": true},
          "encoding": {
            "x": {"field": "i", "type": "quantitative", "axis": null},
            "y": {"field": "p", "type": "quantitative", "title": null}
          }
        },
        {
          "data": {"name": "drawings"},
          "transform": [{"filter": "datum.kind == 'wave'"}],
          "mark": {"type": "line", "color": "#0000ff", "strokeWidth": 1, "clip": true},
          "encoding": {
            "x": {"field": "i", "type": "quantitative", "axis": null},
            "y": {"field": "p", "type": "quantitative", "title": null},
            "detail": {"field": "id"},
            "order": {"field": "k", "type": "quantitative"}
          }
        },
        {
          "data": {"name": "drawings"},
          "transform": [{"filter": "datum.kind == 'guide'"}],
          "mark": {"type": "line", "color": "#0000ff", "strokeWidth": 1, "strokeDash": [2, 2], "clip": true},
          "encoding": {
            "x": {"field": "i", "type": "quantitative", "axis": null},
            "y": {"field": "p", "type": "quantitative", "title": null},
            "detail": {"field": "id"},
            "order": {"field": "k", "type": "quantitative"}
          }
        },
        {
          "data": {"name": "drawings"},
          "transform": [{"filter": "datum.kind == 'trend'"}],
          "mark": {"type": "line", "color": "#0000ff", "strokeWidth": 2, "clip": true},
          "encoding": {
            "x": {"field": "i", "type": "quantitative", "axis": null},
            "y": {"field": "p", "type": "quantitative", "title": null},
            "detail": {"field": "id"},
            "order": {"field": "k", "type": "quantitative"}
          }
        },
        {
          "data": {"name": "candles"},
          "mark": {"type": "rule", "strokeWidth": 1, "clip": true},
          "encoding": {
            "x": {"field": "i", "type": "quantitative", "axis": null},
            "y": {"field": "l", "type": "quantitative", "title": null},
            "y2": {"field": "h"},
            "color": {"condition": [{"test": "datum.c > datum.o", "value": "#00e600"}, {"test": "datum.c < datum.o", "value": "#ee1111"}], "value": "#000000"}
          }
        },
        {
          "data": {"name": "candles"},
          "mark": {"type": "bar", "width": 5, "clip": true},
          "encoding": {
            "x": {"field": "i", "type": "quantitative", "axis": null},
            "y": {"field": "o", "type": "quantitative", "title": null},
            "y2": {"field": "c"},
            "color": {"condition": [{"test": "datum.c > datum.o", "value": "#00e600"}, {"test": "datum.c < datum.o", "value": "#ee1111"}], "value": "#000000"}
          }
        },
        {
          "data": {"name": "candles"},
          "mark": {"type": "tick", "orient": "horizontal", "size": 5, "thickness": 1, "clip": true},
          "encoding": {
            "x": {"field": "i", "type": "quantitative", "axis": null},
            "y": {"field": "c", "type": "quantitative", "title": null},
            "color": {"condition": [{"test": "datum.c > datum.o", "value": "#00e600"}, {"test": "datum.c < datum.o", "value": "#ee1111"}], "value": "#000000"}
          }
        },
        {
          "data": {"values": [{}]},
          "mark": {"type": "text", "align": "center", "baseline": "middle", "fontSize": 7, "color": "#000000"},
          "encoding": {
            "x": {"datum": 0.5, "type": "quantitative", "axis": null},
            "y": {"datum": 1.15905, "type": "quantitative", "title": null},
            "text": {"value": "▼"}
          }
        },
        {
          "data": {"values": [{}]},
          "mark": {"type": "text", "align": "left", "baseline": "middle", "fontSize": 10.5, "color": "#000000"},
          "encoding": {
            "x": {"datum": 2.14, "type": "quantitative", "axis": null},
            "y": {"datum": 1.15904, "type": "quantitative", "title": null},
            "text": {"value": "EURUSD,H4  1.15382 1.15435 1.15378 1.15422"}
          }
        },
        {
          "data": {"name": "tags"},
          "mark": {"type": "bar", "orient": "horizontal", "height": 11, "clip": false},
          "encoding": {
            "x": {"datum": 291.25, "type": "quantitative", "axis": null},
            "x2": {"datum": 299.0},
            "y": {"field": "p", "type": "quantitative", "title": null},
            "color": {"field": "kind", "type": "nominal", "scale": {"domain": ["level", "bid"], "range": ["#ff0000", "#000000"]}, "legend": null}
          }
        },
        {
          "data": {"name": "tags"},
          "mark": {"type": "text", "align": "left", "baseline": "middle", "fontSize": 10, "color": "#ffffff", "clip": false},
          "encoding": {
            "x": {"datum": 291.8, "type": "quantitative", "axis": null},
            "y": {"field": "p", "type": "quantitative", "title": null},
            "text": {"field": "t"}
          }
        }
      ]
    },
    {
      "width": 1992,
      "height": 303,
      "layer": [
        {
          "data": {"name": "wmMacd"},
          "mark": {"type": "line", "fill": "#d6dfea", "strokeWidth": 0, "strokeOpacity": 0, "clip": true},
          "encoding": {
            "x": {"field": "i", "type": "quantitative", "scale": {"domain": [-0.5, 291.1], "nice": false, "zero": false}, "title": null,
              "axis": {"orient": "bottom", "title": null, "values": [0, 12, 24, 36, 48, 60, 72, 84, 96, 108, 120, 132, 144, 156, 168, 180, 192, 204, 216, 228],
                "labelExpr": "['22 Jun 2025','24 Jun 20:00','26 Jun 20:00','30 Jun 20:00','2 Jul 20:00','6 Jul 20:00','8 Jul 20:00','10 Jul 20:00','14 Jul 20:00','16 Jul 20:00','20 Jul 20:00','22 Jul 20:00','24 Jul 20:00','28 Jul 20:00','30 Jul 20:00','3 Aug 20:00','5 Aug 20:00','7 Aug 20:00','11 Aug 20:00','13 Aug 20:00'][round(datum.value / 12)]",
                "tickSize": 4, "labelAlign": "left", "labelBaseline": "top", "labelPadding": 2, "labelFontSize": 9.5, "labelOverlap": false, "labelBound": false, "labelFlush": false}},
            "y": {"field": "v", "type": "quantitative", "scale": {"domain": [-0.0046511, 0.0039338], "nice": false, "zero": false}, "title": null,
              "axis": {"orient": "right", "title": null, "values": [-0.0046511, 0, 0.0039338],
                "labelExpr": "datum.value == 0 ? '0.00' : (datum.value > 0 ? '0.0039338' : '-0.0046511')",
                "labelFlush": true, "tickSize": 4, "labelPadding": 1,
                "labelFontSize": {"condition": {"test": "datum.value < 0", "value": 8.5}, "value": 10}}},
            "detail": {"field": "part"},
            "order": {"field": "k", "type": "quantitative"}
          }
        },
        {
          "data": {"name": "hist"},
          "mark": {"type": "bar", "width": 3, "clip": true},
          "encoding": {
            "x": {"field": "i", "type": "quantitative", "title": null},
            "y": {"field": "h", "type": "quantitative", "title": null},
            "y2": {"datum": 0},
            "color": {"condition": {"test": "datum.g == 1", "value": "#008000"}, "value": "#ff0000"}
          }
        },
        {
          "data": {"name": "signal"},
          "mark": {"type": "line", "color": "#0000ff", "strokeWidth": 1, "clip": true},
          "encoding": {
            "x": {"field": "i", "type": "quantitative", "title": null},
            "y": {"field": "s", "type": "quantitative", "title": null}
          }
        },
        {
          "data": {"values": [{}]},
          "mark": {"type": "text", "align": "left", "baseline": "middle", "fontSize": 8.8, "color": "#000000"},
          "encoding": {
            "x": {"datum": 0.23, "type": "quantitative", "title": null},
            "y": {"datum": 0.003712, "type": "quantitative", "title": null},
            "text": {"value": "MACD  color(12,26,9) 0.00000000 0.00000000 -0.00010617"}
          }
        }
      ]
    }
  ]
}
